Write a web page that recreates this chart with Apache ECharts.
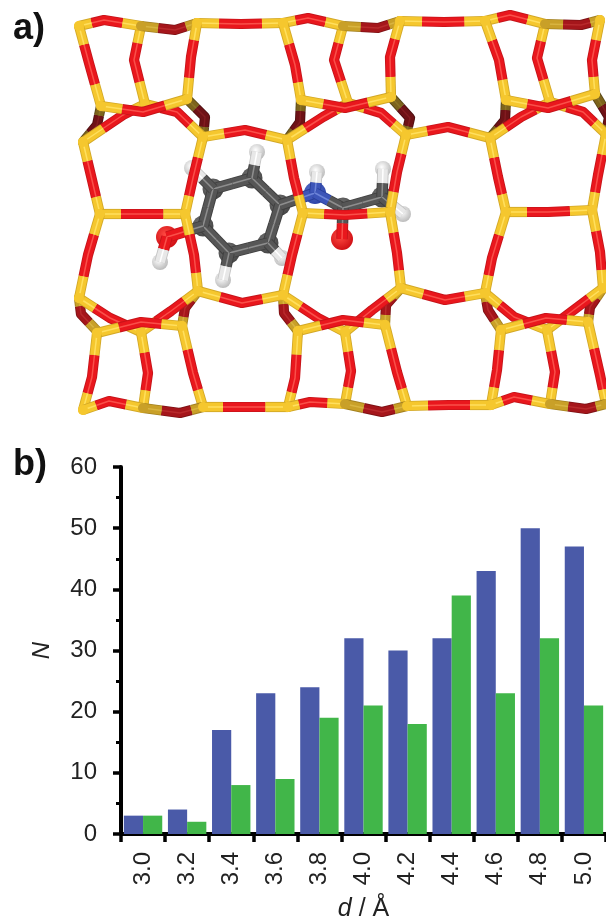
<!DOCTYPE html>
<html><head><meta charset="utf-8">
<style>html,body{margin:0;padding:0;background:#fff;overflow:hidden}#c{width:606px;height:922px;filter:blur(0.4px)}</style>
<script src="https://cdn.jsdelivr.net/npm/echarts@6/dist/echarts.min.js"></script>
</head><body><div id="c"></div>
<script>
// ---- panel b data ----
const distances = ['3.0','3.2','3.4','3.6','3.8','4.0','4.2','4.4','4.6','4.8','5.0'];
const blueCounts = [3,4,17,23,24,32,30,32,43,50,47];
const greenCounts = [3,2,8,9,19,21,18,39,23,32,21];
const yTicks = {min:0,max:60,step:10};

// ---- panel a data: Si-O-Si bridges  [Si x,y, O x,y, Si x,y, shade]  ----
const backBridges = [
 [101,106, 97,125, 83,142, 2],[187,99, 205,117, 203,137, 2],
 [301,100, 300,122, 287,140, 2],[391,97, 410,118, 406,135, 2],
 [506,100, 505,120, 490,138, 2],[595,94, 609,117, 606,134, 2],
 [79,298, 81,314, 97,331, 1],[198,291, 185,308, 182,326, 1],
 [283,295, 284,313, 298,331, 1],[401,288, 386,305, 385,325, 1],
 [485,293, 488,310, 501,330, 1],[603,288, 590,307, 588,322, 1]
];
const innerBridges = [
 [145,104, 123,115, 83,142, 0],[145,104, 177,112, 203,137, 0],
 [348,103, 323,117, 287,140, 0],[348,103, 381,113, 406,135, 0],
 [550,102, 521,117, 490,138, 0],[550,102, 583,112, 606,134, 0],
 [141,26, 134,60, 145,104, 0],[343,26, 334,60, 348,103, 0],[545,24, 537,58, 550,102, 0],
 [79,298, 110,318, 141,332, 0],[198,291, 171,311, 141,332, 0],
 [283,295, 318,318, 345,332, 0],[401,288, 372,310, 345,332, 0],
 [485,293, 514,317, 547,330, 0],[603,288, 575,309, 547,330, 0],
 [141,332, 148,373, 143,408, 0],[345,332, 351,371, 345,404, 0],[547,330, 555,372, 550,404, 0]
];
const topRowBridges = [
 [79,26, 104,20, 141,26, 0],[141,26, 175,30, 197,23, 1],[197,23, 241,24, 283,23, 0],
 [283,23, 308,18, 343,26, 0],[343,26, 378,28, 400,21, 1],[400,21, 444,22, 485,21, 0],
 [485,21, 510,15, 545,24, 0],[545,24, 581,25, 600,20, 1]
];
const upperVerticals = [
 [79,26, 89,63, 101,106, 0],[197,23, 191,57, 187,99, 0],[283,23, 295,65, 301,100, 0],
 [400,21, 390,57, 391,97, 0],[485,21, 499,60, 506,100, 0],[600,20, 592,60, 595,94, 0]
];
const upperRowBridges = [
 [101,106, 143,112, 187,99, 0],[301,100, 345,108, 391,97, 0],[506,100, 548,108, 595,94, 0]
];
const waistBridges = [
 [203,137, 245,130, 287,140, 0],[406,135, 448,127, 490,138, 0],
 [83,142, 92,180, 100,214, 0],[203,137, 193,178, 185,214, 0],[287,140, 294,178, 303,213, 0],
 [406,135, 397,172, 390,212, 0],[490,138, 498,177, 506,212, 0],[606,134, 598,175, 592,210, 0],
 [100,214, 142,214, 185,214, 0],[303,213, 345,215, 390,212, 0],[506,212, 548,212, 592,210, 0],
 [100,214, 88,255, 79,298, 0],[185,214, 194,255, 198,291, 0],[303,213, 292,255, 283,295, 0],
 [390,212, 397,253, 401,288, 0],[506,212, 492,258, 485,293, 0],[592,210, 600,252, 603,288, 0],
 [198,291, 242,303, 283,295, 0],[401,288, 445,300, 485,293, 0]
];
const lowerBridges = [
 [97,333, 141,322, 182,326, 0],[298,331, 343,320, 385,325, 0],[501,330, 546,318, 588,322, 0],
 [97,333, 92,377, 83,410, 0],[182,326, 193,373, 203,407, 0],[298,331, 295,378, 288,407, 0],
 [385,325, 397,372, 407,406, 0],[501,330, 497,370, 491,405, 0],[588,322, 600,375, 606,404, 0]
];
const bottomRowBridges = [
 [83,410, 109,401, 143,408, 0],[143,408, 180,413, 203,407, 1],[203,407, 243,407, 288,407, 0],
 [288,407, 310,402, 345,404, 0],[345,404, 382,412, 407,406, 1],[407,406, 449,405, 491,405, 0],
 [491,405, 514,397, 550,404, 0],[550,404, 586,409, 606,404, 1]
];

// ---- panel a data: guest molecule ----
const carbonAtoms = [[213,189],[252,178],[280,205],[268,243],[229,253],[203,226],[343,208],[382,197]];
const hydrogenAtoms = [[257,152],[192,168],[223,280],[282,258],[317,172],[383,169],[403,214],[160,262]];
const oxygenAtoms = [[167,237],[342,239]];
const nitrogenAtoms = [[315,193]];
// [x1,y1, x2,y2, end1, end2]  0 carbon, 1 hydrogen, 2 oxygen, 3 nitrogen
const moleculeBonds = [
 [213,189,252,178,0,0],[252,178,280,205,0,0],[280,205,268,243,0,0],[268,243,229,253,0,0],
 [229,253,203,226,0,0],[203,226,213,189,0,0],
 [252,178,257,152,0,1],[213,189,192,168,0,1],[229,253,223,280,0,1],[268,243,282,258,0,1],
 [203,226,167,237,0,2],[167,237,160,262,2,1],
 [280,205,315,193,0,3],[315,193,317,172,3,1],[315,193,343,208,3,0],
 [343,208,382,197,0,0],[343,208,342,239,0,2],[382,197,383,169,0,1],[382,197,403,214,0,1]
];

const YEL = [['#d3a826','#f5c72e','#ffdf5e'],['#a3801f','#c9a028','#d8b440'],['#5a4818','#7d641c','#8c7426']];
const RED = [['#c6141a','#e9171d','#f9504a'],['#7e1215','#a5161b','#b82a2c'],['#4e1012','#6e1216','#821c20']];
const ATOM = [['#3f3f3f','#565656','#8e8e8e'],['#c4c4c4','#e8e8e8','#ffffff'],['#c6141a','#e9171d','#f9504a'],['#2a3f9a','#3d55b8','#6d84d8']];

function seg(p,q,c,w){
  return [[c[0],w],[c[1],w-1.8],[c[2],1.5]].map(([col,lw])=>(
    {type:'polyline',shape:{points:[p,q]},style:{stroke:col,lineWidth:lw,fill:null,lineCap:'butt',lineJoin:'round'}}));
}
function bridgeItem(params,api){
  const a=api.coord([api.value(0),api.value(1)]),o=api.coord([api.value(2),api.value(3)]),b=api.coord([api.value(4),api.value(5)]);
  const s=api.value(6),w=10.2;
  const f=0.5;
  const ma=[a[0]+(o[0]-a[0])*f,a[1]+(o[1]-a[1])*f],mb=[b[0]+(o[0]-b[0])*f,b[1]+(o[1]-b[1])*f];
  const kids=[];
  [[RED[s][0],w],[RED[s][1],w-1.8],[RED[s][2],1.5]].forEach(([col,lw])=>{
    kids.push({type:'polyline',shape:{points:[ma,o,mb]},style:{stroke:col,lineWidth:lw,fill:null,lineCap:'butt',lineJoin:'round'}});
  });
  [[a,ma],[b,mb]].forEach(([p,q])=>{kids.push(...seg(p,q,YEL[s],w));});
  [a,b].forEach(p=>{kids.push({type:'circle',shape:{cx:p[0],cy:p[1],r:5},style:{fill:YEL[s][1]}});});
  return {type:'group',children:kids};
}
function bondItem(params,api){
  const a=api.coord([api.value(0),api.value(1)]),b=api.coord([api.value(2),api.value(3)]);
  const m=[(a[0]+b[0])/2,(a[1]+b[1])/2];
  return {type:'group',children:[...seg(a,m,ATOM[api.value(4)],11.5),...seg(m,b,ATOM[api.value(5)],11.5)]};
}
const picSeries=(data,ri,dims)=>({type:'custom',xAxisIndex:0,yAxisIndex:0,data,renderItem:ri,silent:true,clip:false,animation:false,
  encode:{x:dims.x,y:dims.y},z:3});
const BR={x:[0,2,4],y:[1,3,5]};
const atomSeries=(data,size,c0,c1)=>({type:'scatter',xAxisIndex:0,yAxisIndex:0,data,symbolSize:size,silent:true,animation:false,z:2,
  itemStyle:{opacity:1,color:{type:'radial',x:0.42,y:0.38,r:0.62,colorStops:[{offset:0,color:c0},{offset:1,color:c1}]}}});

const labelFont='"Liberation Sans",Arial,sans-serif';
const inkColor='#222';
const chart=echarts.init(document.getElementById('c'),null,{renderer:'canvas'});
chart.setOption({
  animation:false,
  backgroundColor:'#fff',
  grid:[
    {left:0,top:0,width:606,height:440,outerBoundsMode:'none'},
    {left:121,top:467,width:485,height:367,outerBoundsMode:'none'}
  ],
  xAxis:[
    {gridIndex:0,type:'value',min:0,max:606,show:false},
    {gridIndex:1,type:'category',data:distances,
     axisLine:{lineStyle:{color:'#000',width:4}},
     axisTick:{show:true,length:8,lineStyle:{color:'#000',width:3.5}},
     axisLabel:{rotate:90,color:inkColor,fontFamily:labelFont,fontSize:24,margin:18,interval:0},
     name:'{i|d} / Å',nameLocation:'middle',nameGap:63,nameMoveOverlap:false,
     nameTextStyle:{color:inkColor,fontFamily:labelFont,fontSize:25,rich:{i:{fontStyle:'italic',fontFamily:labelFont,fontSize:25,color:inkColor}}}}
  ],
  yAxis:[
    {gridIndex:0,type:'value',min:0,max:440,inverse:true,show:false},
    {gridIndex:1,type:'value',min:yTicks.min,max:yTicks.max,interval:yTicks.step,
     axisLine:{show:true,lineStyle:{color:'#000',width:4}},
     axisTick:{show:true,length:8,lineStyle:{color:'#000',width:3.5}},
     minorTick:{show:true,splitNumber:2,length:5,lineStyle:{color:'#000',width:3}},
     splitLine:{show:false},minorSplitLine:{show:false},
     axisLabel:{color:inkColor,fontFamily:labelFont,fontSize:24,margin:24},
     name:'N',nameLocation:'middle',nameGap:67,nameMoveOverlap:false,
     nameTextStyle:{color:inkColor,fontFamily:labelFont,fontSize:24,fontStyle:'italic'}}
  ],
  series:[
    picSeries(moleculeBonds,bondItem,{x:[0,2],y:[1,3]}),
    atomSeries(carbonAtoms,21,'#7c7c7c','#474747'),
    atomSeries(hydrogenAtoms,16,'#ffffff','#bcbcbc'),
    atomSeries(oxygenAtoms,22,'#ff4a42','#d01015'),
    atomSeries(nitrogenAtoms,22,'#5f78d0','#2c43a8'),
    picSeries(backBridges,bridgeItem,BR),
    picSeries(innerBridges,bridgeItem,BR),
    picSeries(topRowBridges,bridgeItem,BR),
    picSeries(upperVerticals,bridgeItem,BR),
    picSeries(upperRowBridges,bridgeItem,BR),
    picSeries(waistBridges,bridgeItem,BR),
    picSeries(lowerBridges,bridgeItem,BR),
    picSeries(bottomRowBridges,bridgeItem,BR),
    {type:'bar',xAxisIndex:1,yAxisIndex:1,data:blueCounts,barWidth:19.2,barGap:'0%',itemStyle:{color:'#4a5aa8'}},
    {type:'bar',xAxisIndex:1,yAxisIndex:1,data:greenCounts,barWidth:19.2,barGap:'0%',itemStyle:{color:'#41b649'}}
  ],
  graphic:[
    {type:'text',left:13,top:11,style:{text:'a)',font:'bold 36px "Liberation Sans",Arial,sans-serif',fill:'#111'}},
    {type:'text',left:13,top:447,style:{text:'b)',font:'bold 36px "Liberation Sans",Arial,sans-serif',fill:'#111'}}
  ]
});
</script></body></html>
